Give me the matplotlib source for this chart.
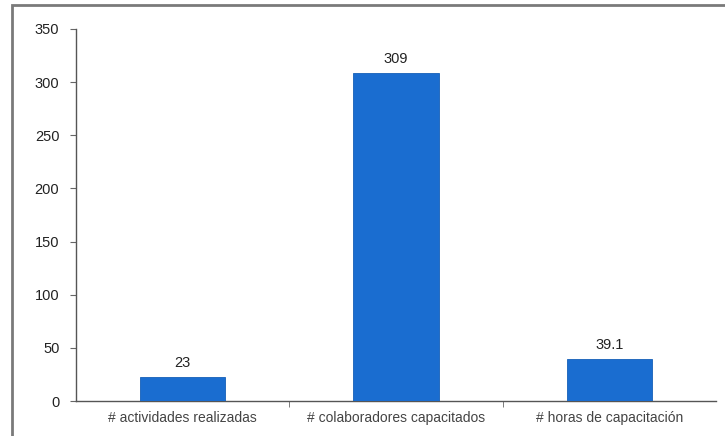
import matplotlib
matplotlib.use("Agg")
import matplotlib.pyplot as plt
from matplotlib.patches import Rectangle

categories = ["# actividades realizadas", "# colaboradores capacitados", "# horas de capacitación"]
values = [23, 309, 39.1]
value_labels = ["23", "309", "39.1"]
y_ticks = [0, 50, 100, 150, 200, 250, 300, 350]

plt.rcParams["font.family"] = ["Liberation Sans", "DejaVu Sans"]

fig = plt.figure(figsize=(7.25, 4.36), dpi=100)
ax = fig.add_axes([76 / 725, 1 - 401 / 436, 640 / 725, 372 / 436])

x = list(range(len(categories)))
bars = ax.bar(x, values, width=0.4, color="#1a6dd0", edgecolor="#1560b8", linewidth=0.6, zorder=3)
for xi, v, lbl in zip(x, values, value_labels):
    ax.annotate(lbl, (xi, v), xytext=(0, 5), textcoords="offset points",
                ha="center", va="bottom", fontsize=10.5, color="#222222")

ax.set_xlim(-0.5, 2.5)
ax.set_ylim(0, 350)
ax.set_yticks(y_ticks)
ax.set_yticklabels([str(t) for t in y_ticks], fontsize=10.5, color="#222222")

# category labels centred under bars, tick marks at category boundaries
ax.set_xticks(x)
ax.set_xticklabels(categories, fontsize=10, color="#444444")
ax.tick_params(axis="x", length=0, pad=7)
ax.set_xticks([0.5, 1.5], minor=True)
ax.tick_params(axis="x", which="minor", length=4, color="#666666", direction="out")
ax.tick_params(axis="y", length=4, color="#666666", pad=8)

for side in ["top", "right"]:
    ax.spines[side].set_visible(False)
for side in ["left", "bottom"]:
    ax.spines[side].set_color("#555555")
    ax.spines[side].set_linewidth(1.0)

# outer frame of the chart area
frame = Rectangle((12 / 725, -0.05), 1.1, 1 - 5 / 436 + 0.05, transform=fig.transFigure,
                  fill=False, edgecolor="#7a7a7a", linewidth=2.0)
fig.patches.append(frame)

fig.savefig("out.png", dpi=100)
